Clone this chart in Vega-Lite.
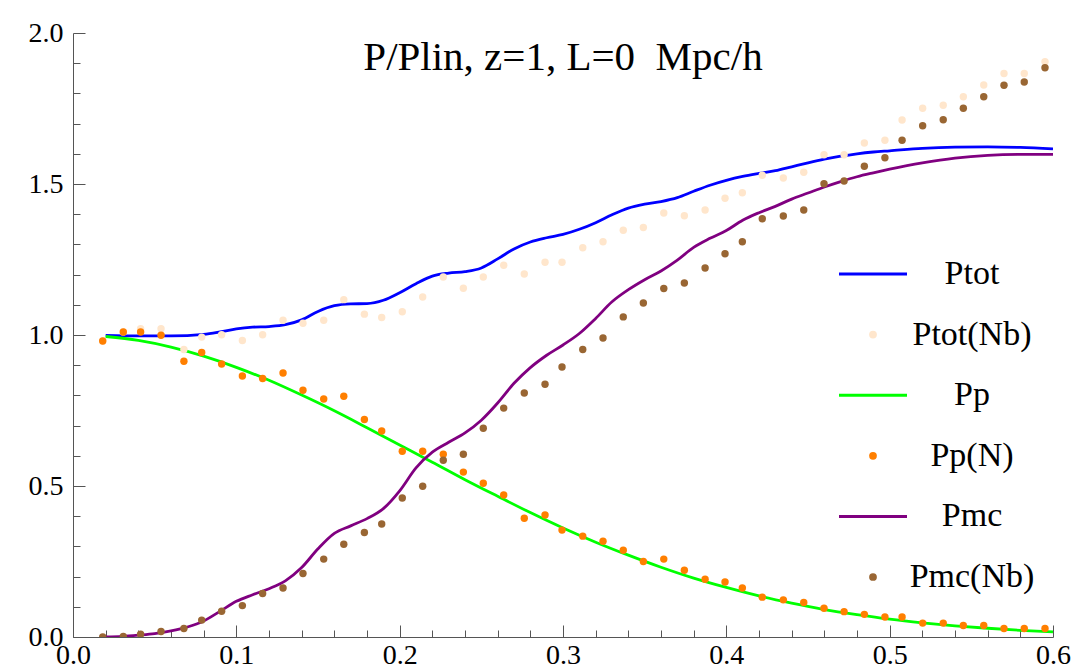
{
  "$schema": "https://vega.github.io/schema/vega-lite/v6.json",
  "width": 980,
  "height": 604,
  "autosize": {"type": "none"},
  "padding": {"left": 73, "top": 33, "right": 21, "bottom": 29},
  "background": "white",
  "config": {
    "view": {"stroke": null},
    "axis": {"domainColor": "#555555", "tickColor": "#555555", "labelColor": "black", "labelFont": "Liberation Serif, serif", "labelFontSize": 28, "grid": false, "title": null, "labelFlush": false, "labelOverlap": false, "labelBound": false, "tickWidth": 1, "domainWidth": 1}
  },
  "datasets": {
    "titles": [{"t": "P/Plin, z=1, L=0\u00a0 Mpc/h"}],
    "lines": [
      {"s":"Ptot","k":0.02,"v":0.999},{"s":"Ptot","k":0.04,"v":0.997},{"s":"Ptot","k":0.06,"v":0.997},{"s":"Ptot","k":0.08,"v":1.002},{"s":"Ptot","k":0.09,"v":1.010},{"s":"Ptot","k":0.10,"v":1.020},{"s":"Ptot","k":0.11,"v":1.026},{"s":"Ptot","k":0.12,"v":1.028},{"s":"Ptot","k":0.13,"v":1.034},{"s":"Ptot","k":0.14,"v":1.050},{"s":"Ptot","k":0.15,"v":1.078},{"s":"Ptot","k":0.16,"v":1.097},{"s":"Ptot","k":0.17,"v":1.103},{"s":"Ptot","k":0.18,"v":1.104},{"s":"Ptot","k":0.19,"v":1.115},{"s":"Ptot","k":0.20,"v":1.140},{"s":"Ptot","k":0.21,"v":1.170},{"s":"Ptot","k":0.22,"v":1.195},{"s":"Ptot","k":0.23,"v":1.205},{"s":"Ptot","k":0.24,"v":1.210},{"s":"Ptot","k":0.25,"v":1.222},{"s":"Ptot","k":0.26,"v":1.252},{"s":"Ptot","k":0.27,"v":1.285},{"s":"Ptot","k":0.28,"v":1.308},{"s":"Ptot","k":0.29,"v":1.322},{"s":"Ptot","k":0.30,"v":1.333},{"s":"Ptot","k":0.31,"v":1.350},{"s":"Ptot","k":0.32,"v":1.372},{"s":"Ptot","k":0.33,"v":1.398},{"s":"Ptot","k":0.34,"v":1.420},{"s":"Ptot","k":0.35,"v":1.433},{"s":"Ptot","k":0.36,"v":1.442},{"s":"Ptot","k":0.37,"v":1.455},{"s":"Ptot","k":0.38,"v":1.476},{"s":"Ptot","k":0.39,"v":1.496},{"s":"Ptot","k":0.40,"v":1.512},{"s":"Ptot","k":0.41,"v":1.525},{"s":"Ptot","k":0.42,"v":1.535},{"s":"Ptot","k":0.43,"v":1.544},{"s":"Ptot","k":0.44,"v":1.557},{"s":"Ptot","k":0.45,"v":1.570},{"s":"Ptot","k":0.46,"v":1.582},{"s":"Ptot","k":0.47,"v":1.592},{"s":"Ptot","k":0.48,"v":1.600},{"s":"Ptot","k":0.49,"v":1.606},{"s":"Ptot","k":0.50,"v":1.610},{"s":"Ptot","k":0.52,"v":1.618},{"s":"Ptot","k":0.54,"v":1.622},{"s":"Ptot","k":0.56,"v":1.623},{"s":"Ptot","k":0.58,"v":1.621},{"s":"Ptot","k":0.60,"v":1.616},
      {"s":"Pp","k":0.02,"v":0.995},{"s":"Pp","k":0.04,"v":0.982},{"s":"Pp","k":0.06,"v":0.960},{"s":"Pp","k":0.08,"v":0.930},{"s":"Pp","k":0.10,"v":0.893},{"s":"Pp","k":0.12,"v":0.850},{"s":"Pp","k":0.14,"v":0.801},{"s":"Pp","k":0.16,"v":0.749},{"s":"Pp","k":0.18,"v":0.693},{"s":"Pp","k":0.20,"v":0.636},{"s":"Pp","k":0.22,"v":0.579},{"s":"Pp","k":0.24,"v":0.521},{"s":"Pp","k":0.26,"v":0.466},{"s":"Pp","k":0.28,"v":0.412},{"s":"Pp","k":0.30,"v":0.361},{"s":"Pp","k":0.32,"v":0.314},{"s":"Pp","k":0.34,"v":0.271},{"s":"Pp","k":0.36,"v":0.231},{"s":"Pp","k":0.38,"v":0.195},{"s":"Pp","k":0.40,"v":0.164},{"s":"Pp","k":0.42,"v":0.136},{"s":"Pp","k":0.44,"v":0.112},{"s":"Pp","k":0.46,"v":0.091},{"s":"Pp","k":0.48,"v":0.074},{"s":"Pp","k":0.50,"v":0.059},{"s":"Pp","k":0.52,"v":0.047},{"s":"Pp","k":0.54,"v":0.037},{"s":"Pp","k":0.56,"v":0.029},{"s":"Pp","k":0.58,"v":0.022},{"s":"Pp","k":0.60,"v":0.017},
      {"s":"Pmc","k":0.02,"v":0.000},{"s":"Pmc","k":0.03,"v":0.002},{"s":"Pmc","k":0.04,"v":0.006},{"s":"Pmc","k":0.05,"v":0.011},{"s":"Pmc","k":0.06,"v":0.020},{"s":"Pmc","k":0.07,"v":0.033},{"s":"Pmc","k":0.08,"v":0.053},{"s":"Pmc","k":0.09,"v":0.085},{"s":"Pmc","k":0.10,"v":0.118},{"s":"Pmc","k":0.11,"v":0.140},{"s":"Pmc","k":0.12,"v":0.160},{"s":"Pmc","k":0.13,"v":0.186},{"s":"Pmc","k":0.14,"v":0.230},{"s":"Pmc","k":0.15,"v":0.292},{"s":"Pmc","k":0.16,"v":0.343},{"s":"Pmc","k":0.17,"v":0.368},{"s":"Pmc","k":0.18,"v":0.392},{"s":"Pmc","k":0.19,"v":0.425},{"s":"Pmc","k":0.20,"v":0.484},{"s":"Pmc","k":0.21,"v":0.560},{"s":"Pmc","k":0.22,"v":0.612},{"s":"Pmc","k":0.23,"v":0.645},{"s":"Pmc","k":0.24,"v":0.676},{"s":"Pmc","k":0.25,"v":0.718},{"s":"Pmc","k":0.26,"v":0.775},{"s":"Pmc","k":0.27,"v":0.840},{"s":"Pmc","k":0.28,"v":0.892},{"s":"Pmc","k":0.29,"v":0.933},{"s":"Pmc","k":0.30,"v":0.967},{"s":"Pmc","k":0.31,"v":1.005},{"s":"Pmc","k":0.32,"v":1.055},{"s":"Pmc","k":0.33,"v":1.110},{"s":"Pmc","k":0.34,"v":1.150},{"s":"Pmc","k":0.35,"v":1.183},{"s":"Pmc","k":0.36,"v":1.212},{"s":"Pmc","k":0.37,"v":1.248},{"s":"Pmc","k":0.38,"v":1.290},{"s":"Pmc","k":0.39,"v":1.320},{"s":"Pmc","k":0.40,"v":1.346},{"s":"Pmc","k":0.41,"v":1.380},{"s":"Pmc","k":0.42,"v":1.405},{"s":"Pmc","k":0.43,"v":1.426},{"s":"Pmc","k":0.44,"v":1.450},{"s":"Pmc","k":0.45,"v":1.470},{"s":"Pmc","k":0.46,"v":1.490},{"s":"Pmc","k":0.47,"v":1.508},{"s":"Pmc","k":0.48,"v":1.524},{"s":"Pmc","k":0.49,"v":1.537},{"s":"Pmc","k":0.50,"v":1.549},{"s":"Pmc","k":0.52,"v":1.570},{"s":"Pmc","k":0.54,"v":1.586},{"s":"Pmc","k":0.56,"v":1.595},{"s":"Pmc","k":0.58,"v":1.598},{"s":"Pmc","k":0.60,"v":1.598}
    ],
    "points": [
      {"s":"Ptot(Nb)","k":0.0182,"v":0.980},{"s":"Ptot(Nb)","k":0.0308,"v":1.010},{"s":"Ptot(Nb)","k":0.0414,"v":1.021},{"s":"Ptot(Nb)","k":0.0539,"v":1.021},{"s":"Ptot(Nb)","k":0.0679,"v":0.952},{"s":"Ptot(Nb)","k":0.0788,"v":0.993},{"s":"Ptot(Nb)","k":0.0910,"v":1.001},{"s":"Ptot(Nb)","k":0.1037,"v":0.982},{"s":"Ptot(Nb)","k":0.1161,"v":1.001},{"s":"Ptot(Nb)","k":0.1286,"v":1.049},{"s":"Ptot(Nb)","k":0.1408,"v":1.039},{"s":"Ptot(Nb)","k":0.1535,"v":1.049},{"s":"Ptot(Nb)","k":0.1658,"v":1.117},{"s":"Ptot(Nb)","k":0.1784,"v":1.069},{"s":"Ptot(Nb)","k":0.1890,"v":1.058},{"s":"Ptot(Nb)","k":0.2016,"v":1.077},{"s":"Ptot(Nb)","k":0.2141,"v":1.126},{"s":"Ptot(Nb)","k":0.2267,"v":1.192},{"s":"Ptot(Nb)","k":0.2390,"v":1.155},{"s":"Ptot(Nb)","k":0.2512,"v":1.192},{"s":"Ptot(Nb)","k":0.2637,"v":1.231},{"s":"Ptot(Nb)","k":0.2763,"v":1.202},{"s":"Ptot(Nb)","k":0.2890,"v":1.241},{"s":"Ptot(Nb)","k":0.2994,"v":1.241},{"s":"Ptot(Nb)","k":0.3121,"v":1.289},{"s":"Ptot(Nb)","k":0.3245,"v":1.309},{"s":"Ptot(Nb)","k":0.3369,"v":1.347},{"s":"Ptot(Nb)","k":0.3492,"v":1.356},{"s":"Ptot(Nb)","k":0.3617,"v":1.404},{"s":"Ptot(Nb)","k":0.3743,"v":1.395},{"s":"Ptot(Nb)","k":0.3870,"v":1.414},{"s":"Ptot(Nb)","k":0.3992,"v":1.453},{"s":"Ptot(Nb)","k":0.4098,"v":1.471},{"s":"Ptot(Nb)","k":0.4220,"v":1.529},{"s":"Ptot(Nb)","k":0.4349,"v":1.520},{"s":"Ptot(Nb)","k":0.4474,"v":1.539},{"s":"Ptot(Nb)","k":0.4598,"v":1.597},{"s":"Ptot(Nb)","k":0.4721,"v":1.597},{"s":"Ptot(Nb)","k":0.4845,"v":1.636},{"s":"Ptot(Nb)","k":0.4971,"v":1.645},{"s":"Ptot(Nb)","k":0.5076,"v":1.712},{"s":"Ptot(Nb)","k":0.5202,"v":1.751},{"s":"Ptot(Nb)","k":0.5328,"v":1.761},{"s":"Ptot(Nb)","k":0.5451,"v":1.789},{"s":"Ptot(Nb)","k":0.5576,"v":1.828},{"s":"Ptot(Nb)","k":0.5700,"v":1.866},{"s":"Ptot(Nb)","k":0.5824,"v":1.866},{"s":"Ptot(Nb)","k":0.5951,"v":1.905},
      {"s":"Pp(N)","k":0.0182,"v":0.980},{"s":"Pp(N)","k":0.0308,"v":1.010},{"s":"Pp(N)","k":0.0414,"v":1.010},{"s":"Pp(N)","k":0.0539,"v":0.999},{"s":"Pp(N)","k":0.0679,"v":0.913},{"s":"Pp(N)","k":0.0788,"v":0.942},{"s":"Pp(N)","k":0.0910,"v":0.904},{"s":"Pp(N)","k":0.1037,"v":0.864},{"s":"Pp(N)","k":0.1161,"v":0.856},{"s":"Pp(N)","k":0.1286,"v":0.874},{"s":"Pp(N)","k":0.1408,"v":0.817},{"s":"Pp(N)","k":0.1535,"v":0.788},{"s":"Pp(N)","k":0.1658,"v":0.797},{"s":"Pp(N)","k":0.1784,"v":0.720},{"s":"Pp(N)","k":0.1890,"v":0.682},{"s":"Pp(N)","k":0.2016,"v":0.615},{"s":"Pp(N)","k":0.2141,"v":0.615},{"s":"Pp(N)","k":0.2267,"v":0.605},{"s":"Pp(N)","k":0.2390,"v":0.546},{"s":"Pp(N)","k":0.2512,"v":0.509},{"s":"Pp(N)","k":0.2637,"v":0.470},{"s":"Pp(N)","k":0.2763,"v":0.393},{"s":"Pp(N)","k":0.2890,"v":0.404},{"s":"Pp(N)","k":0.2994,"v":0.354},{"s":"Pp(N)","k":0.3121,"v":0.334},{"s":"Pp(N)","k":0.3245,"v":0.317},{"s":"Pp(N)","k":0.3369,"v":0.287},{"s":"Pp(N)","k":0.3492,"v":0.250},{"s":"Pp(N)","k":0.3617,"v":0.258},{"s":"Pp(N)","k":0.3743,"v":0.221},{"s":"Pp(N)","k":0.3870,"v":0.191},{"s":"Pp(N)","k":0.3992,"v":0.182},{"s":"Pp(N)","k":0.4098,"v":0.162},{"s":"Pp(N)","k":0.4220,"v":0.132},{"s":"Pp(N)","k":0.4349,"v":0.123},{"s":"Pp(N)","k":0.4474,"v":0.114},{"s":"Pp(N)","k":0.4598,"v":0.095},{"s":"Pp(N)","k":0.4721,"v":0.084},{"s":"Pp(N)","k":0.4845,"v":0.075},{"s":"Pp(N)","k":0.4971,"v":0.066},{"s":"Pp(N)","k":0.5076,"v":0.066},{"s":"Pp(N)","k":0.5202,"v":0.046},{"s":"Pp(N)","k":0.5328,"v":0.046},{"s":"Pp(N)","k":0.5451,"v":0.038},{"s":"Pp(N)","k":0.5576,"v":0.038},{"s":"Pp(N)","k":0.5700,"v":0.028},{"s":"Pp(N)","k":0.5824,"v":0.028},{"s":"Pp(N)","k":0.5951,"v":0.028},
      {"s":"Pmc(Nb)","k":0.0182,"v":0.000},{"s":"Pmc(Nb)","k":0.0308,"v":0.002},{"s":"Pmc(Nb)","k":0.0414,"v":0.009},{"s":"Pmc(Nb)","k":0.0539,"v":0.018},{"s":"Pmc(Nb)","k":0.0679,"v":0.028},{"s":"Pmc(Nb)","k":0.0788,"v":0.056},{"s":"Pmc(Nb)","k":0.0910,"v":0.085},{"s":"Pmc(Nb)","k":0.1037,"v":0.104},{"s":"Pmc(Nb)","k":0.1161,"v":0.144},{"s":"Pmc(Nb)","k":0.1286,"v":0.162},{"s":"Pmc(Nb)","k":0.1408,"v":0.210},{"s":"Pmc(Nb)","k":0.1535,"v":0.258},{"s":"Pmc(Nb)","k":0.1658,"v":0.307},{"s":"Pmc(Nb)","k":0.1784,"v":0.346},{"s":"Pmc(Nb)","k":0.1890,"v":0.374},{"s":"Pmc(Nb)","k":0.2016,"v":0.460},{"s":"Pmc(Nb)","k":0.2141,"v":0.499},{"s":"Pmc(Nb)","k":0.2267,"v":0.585},{"s":"Pmc(Nb)","k":0.2390,"v":0.605},{"s":"Pmc(Nb)","k":0.2512,"v":0.691},{"s":"Pmc(Nb)","k":0.2637,"v":0.758},{"s":"Pmc(Nb)","k":0.2763,"v":0.808},{"s":"Pmc(Nb)","k":0.2890,"v":0.837},{"s":"Pmc(Nb)","k":0.2994,"v":0.894},{"s":"Pmc(Nb)","k":0.3121,"v":0.952},{"s":"Pmc(Nb)","k":0.3245,"v":0.990},{"s":"Pmc(Nb)","k":0.3369,"v":1.060},{"s":"Pmc(Nb)","k":0.3492,"v":1.106},{"s":"Pmc(Nb)","k":0.3617,"v":1.154},{"s":"Pmc(Nb)","k":0.3743,"v":1.172},{"s":"Pmc(Nb)","k":0.3870,"v":1.222},{"s":"Pmc(Nb)","k":0.3992,"v":1.269},{"s":"Pmc(Nb)","k":0.4098,"v":1.309},{"s":"Pmc(Nb)","k":0.4220,"v":1.385},{"s":"Pmc(Nb)","k":0.4349,"v":1.394},{"s":"Pmc(Nb)","k":0.4474,"v":1.414},{"s":"Pmc(Nb)","k":0.4598,"v":1.501},{"s":"Pmc(Nb)","k":0.4721,"v":1.510},{"s":"Pmc(Nb)","k":0.4845,"v":1.559},{"s":"Pmc(Nb)","k":0.4971,"v":1.587},{"s":"Pmc(Nb)","k":0.5076,"v":1.645},{"s":"Pmc(Nb)","k":0.5202,"v":1.693},{"s":"Pmc(Nb)","k":0.5328,"v":1.713},{"s":"Pmc(Nb)","k":0.5451,"v":1.751},{"s":"Pmc(Nb)","k":0.5576,"v":1.789},{"s":"Pmc(Nb)","k":0.5700,"v":1.827},{"s":"Pmc(Nb)","k":0.5824,"v":1.838},{"s":"Pmc(Nb)","k":0.5951,"v":1.885}
    ]
  },
  "layer": [
    {"data": {"name": "lines"}, "mark": {"type": "line", "strokeWidth": 2.8, "interpolate": "monotone", "clip": true},
     "encoding": {
      "x": {"field": "k", "type": "quantitative",
        "scale": {"domain": [0, 0.6], "nice": false, "zero": false},
        "axis": {"orient": "bottom",
          "values": [0,0.02,0.04,0.06,0.08,0.1,0.12,0.14,0.16,0.18,0.2,0.22,0.24,0.26,0.28,0.3,0.32,0.34,0.36,0.38,0.4,0.42,0.44,0.46,0.48,0.5,0.52,0.54,0.56,0.58,0.6],
          "labelExpr": "abs(datum.value*10 - round(datum.value*10)) < 0.001 ? format(datum.value, '.1f') : ''",
          "tickSize": {"condition": {"test": "abs(datum.value*10 - round(datum.value*10)) < 0.001", "value": -12}, "value": -7},
          "labelPadding": 16}},
      "y": {"field": "v", "type": "quantitative",
        "scale": {"domain": [0, 2], "nice": false, "zero": false},
        "axis": {"orient": "left",
          "values": [0,0.1,0.2,0.3,0.4,0.5,0.6,0.7,0.8,0.9,1,1.1,1.2,1.3,1.4,1.5,1.6,1.7,1.8,1.9,2],
          "labelExpr": "abs(datum.value*2 - round(datum.value*2)) < 0.001 ? format(datum.value, '.1f') : ''",
          "tickSize": {"condition": {"test": "abs(datum.value*2 - round(datum.value*2)) < 0.001", "value": -12}, "value": -7},
          "labelPadding": 22}},
      "color": {"field": "s", "type": "nominal",
      "scale": {"domain": ["Ptot", "Ptot(Nb)", "Pp", "Pp(N)", "Pmc", "Pmc(Nb)"],
                "range": ["#0000ff", "#ffe6cc", "#00ff00", "#ff7f00", "#800080", "#996633"]},
      "legend": {"orient": "none", "legendX": 783, "legendY": 224, "title": null, "padding": 0,
        "symbolSize": 3000, "labelFont": "Liberation Serif, serif", "labelFontSize": 34, "labelColor": "black",
        "labelAlign": "center", "labelOffset": 82, "rowPadding": 26.6, "labelLimit": 0,
        "encode": {"symbols": {"update": {
          "shape": {"signal": "indexof(['Ptot','Pp','Pmc'], datum.value) >= 0 ? 'stroke' : 'circle'"},
          "size": {"signal": "indexof(['Ptot','Pp','Pmc'], datum.value) >= 0 ? 4624 : 60"},
          "strokeWidth": {"signal": "indexof(['Ptot','Pp','Pmc'], datum.value) >= 0 ? 3 : 0"},
          "fill": {"scale": "color", "field": "value"},
          "stroke": {"scale": "color", "field": "value"},
          "opacity": {"value": 1}, "fillOpacity": {"value": 1}, "strokeOpacity": {"value": 1}}}}}}}},
    {"data": {"name": "points"}, "mark": {"type": "point", "filled": true, "size": 55, "opacity": 1, "clip": true},
     "encoding": {
      "x": {"field": "k", "type": "quantitative",
        "scale": {"domain": [0, 0.6], "nice": false, "zero": false},
        "axis": {"orient": "bottom",
          "values": [0,0.02,0.04,0.06,0.08,0.1,0.12,0.14,0.16,0.18,0.2,0.22,0.24,0.26,0.28,0.3,0.32,0.34,0.36,0.38,0.4,0.42,0.44,0.46,0.48,0.5,0.52,0.54,0.56,0.58,0.6],
          "labelExpr": "abs(datum.value*10 - round(datum.value*10)) < 0.001 ? format(datum.value, '.1f') : ''",
          "tickSize": {"condition": {"test": "abs(datum.value*10 - round(datum.value*10)) < 0.001", "value": -12}, "value": -7},
          "labelPadding": 16}},
      "y": {"field": "v", "type": "quantitative",
        "scale": {"domain": [0, 2], "nice": false, "zero": false},
        "axis": {"orient": "left",
          "values": [0,0.1,0.2,0.3,0.4,0.5,0.6,0.7,0.8,0.9,1,1.1,1.2,1.3,1.4,1.5,1.6,1.7,1.8,1.9,2],
          "labelExpr": "abs(datum.value*2 - round(datum.value*2)) < 0.001 ? format(datum.value, '.1f') : ''",
          "tickSize": {"condition": {"test": "abs(datum.value*2 - round(datum.value*2)) < 0.001", "value": -12}, "value": -7},
          "labelPadding": 22}},
      "color": {"field": "s", "type": "nominal"}}},
    {"data": {"name": "titles"}, "mark": {"type": "text", "font": "Liberation Serif, serif", "fontSize": 41, "color": "black", "align": "center", "baseline": "alphabetic"},
     "encoding": {"text": {"field": "t", "type": "nominal"},
      "x": {"datum": 0.3, "type": "quantitative",
        "scale": {"domain": [0, 0.6], "nice": false, "zero": false},
        "axis": {"orient": "bottom",
          "values": [0,0.02,0.04,0.06,0.08,0.1,0.12,0.14,0.16,0.18,0.2,0.22,0.24,0.26,0.28,0.3,0.32,0.34,0.36,0.38,0.4,0.42,0.44,0.46,0.48,0.5,0.52,0.54,0.56,0.58,0.6],
          "labelExpr": "abs(datum.value*10 - round(datum.value*10)) < 0.001 ? format(datum.value, '.1f') : ''",
          "tickSize": {"condition": {"test": "abs(datum.value*10 - round(datum.value*10)) < 0.001", "value": -12}, "value": -7},
          "labelPadding": 16}},
      "y": {"datum": 1.877, "type": "quantitative",
        "scale": {"domain": [0, 2], "nice": false, "zero": false},
        "axis": {"orient": "left",
          "values": [0,0.1,0.2,0.3,0.4,0.5,0.6,0.7,0.8,0.9,1,1.1,1.2,1.3,1.4,1.5,1.6,1.7,1.8,1.9,2],
          "labelExpr": "abs(datum.value*2 - round(datum.value*2)) < 0.001 ? format(datum.value, '.1f') : ''",
          "tickSize": {"condition": {"test": "abs(datum.value*2 - round(datum.value*2)) < 0.001", "value": -12}, "value": -7},
          "labelPadding": 22}}}}
  ]
}
